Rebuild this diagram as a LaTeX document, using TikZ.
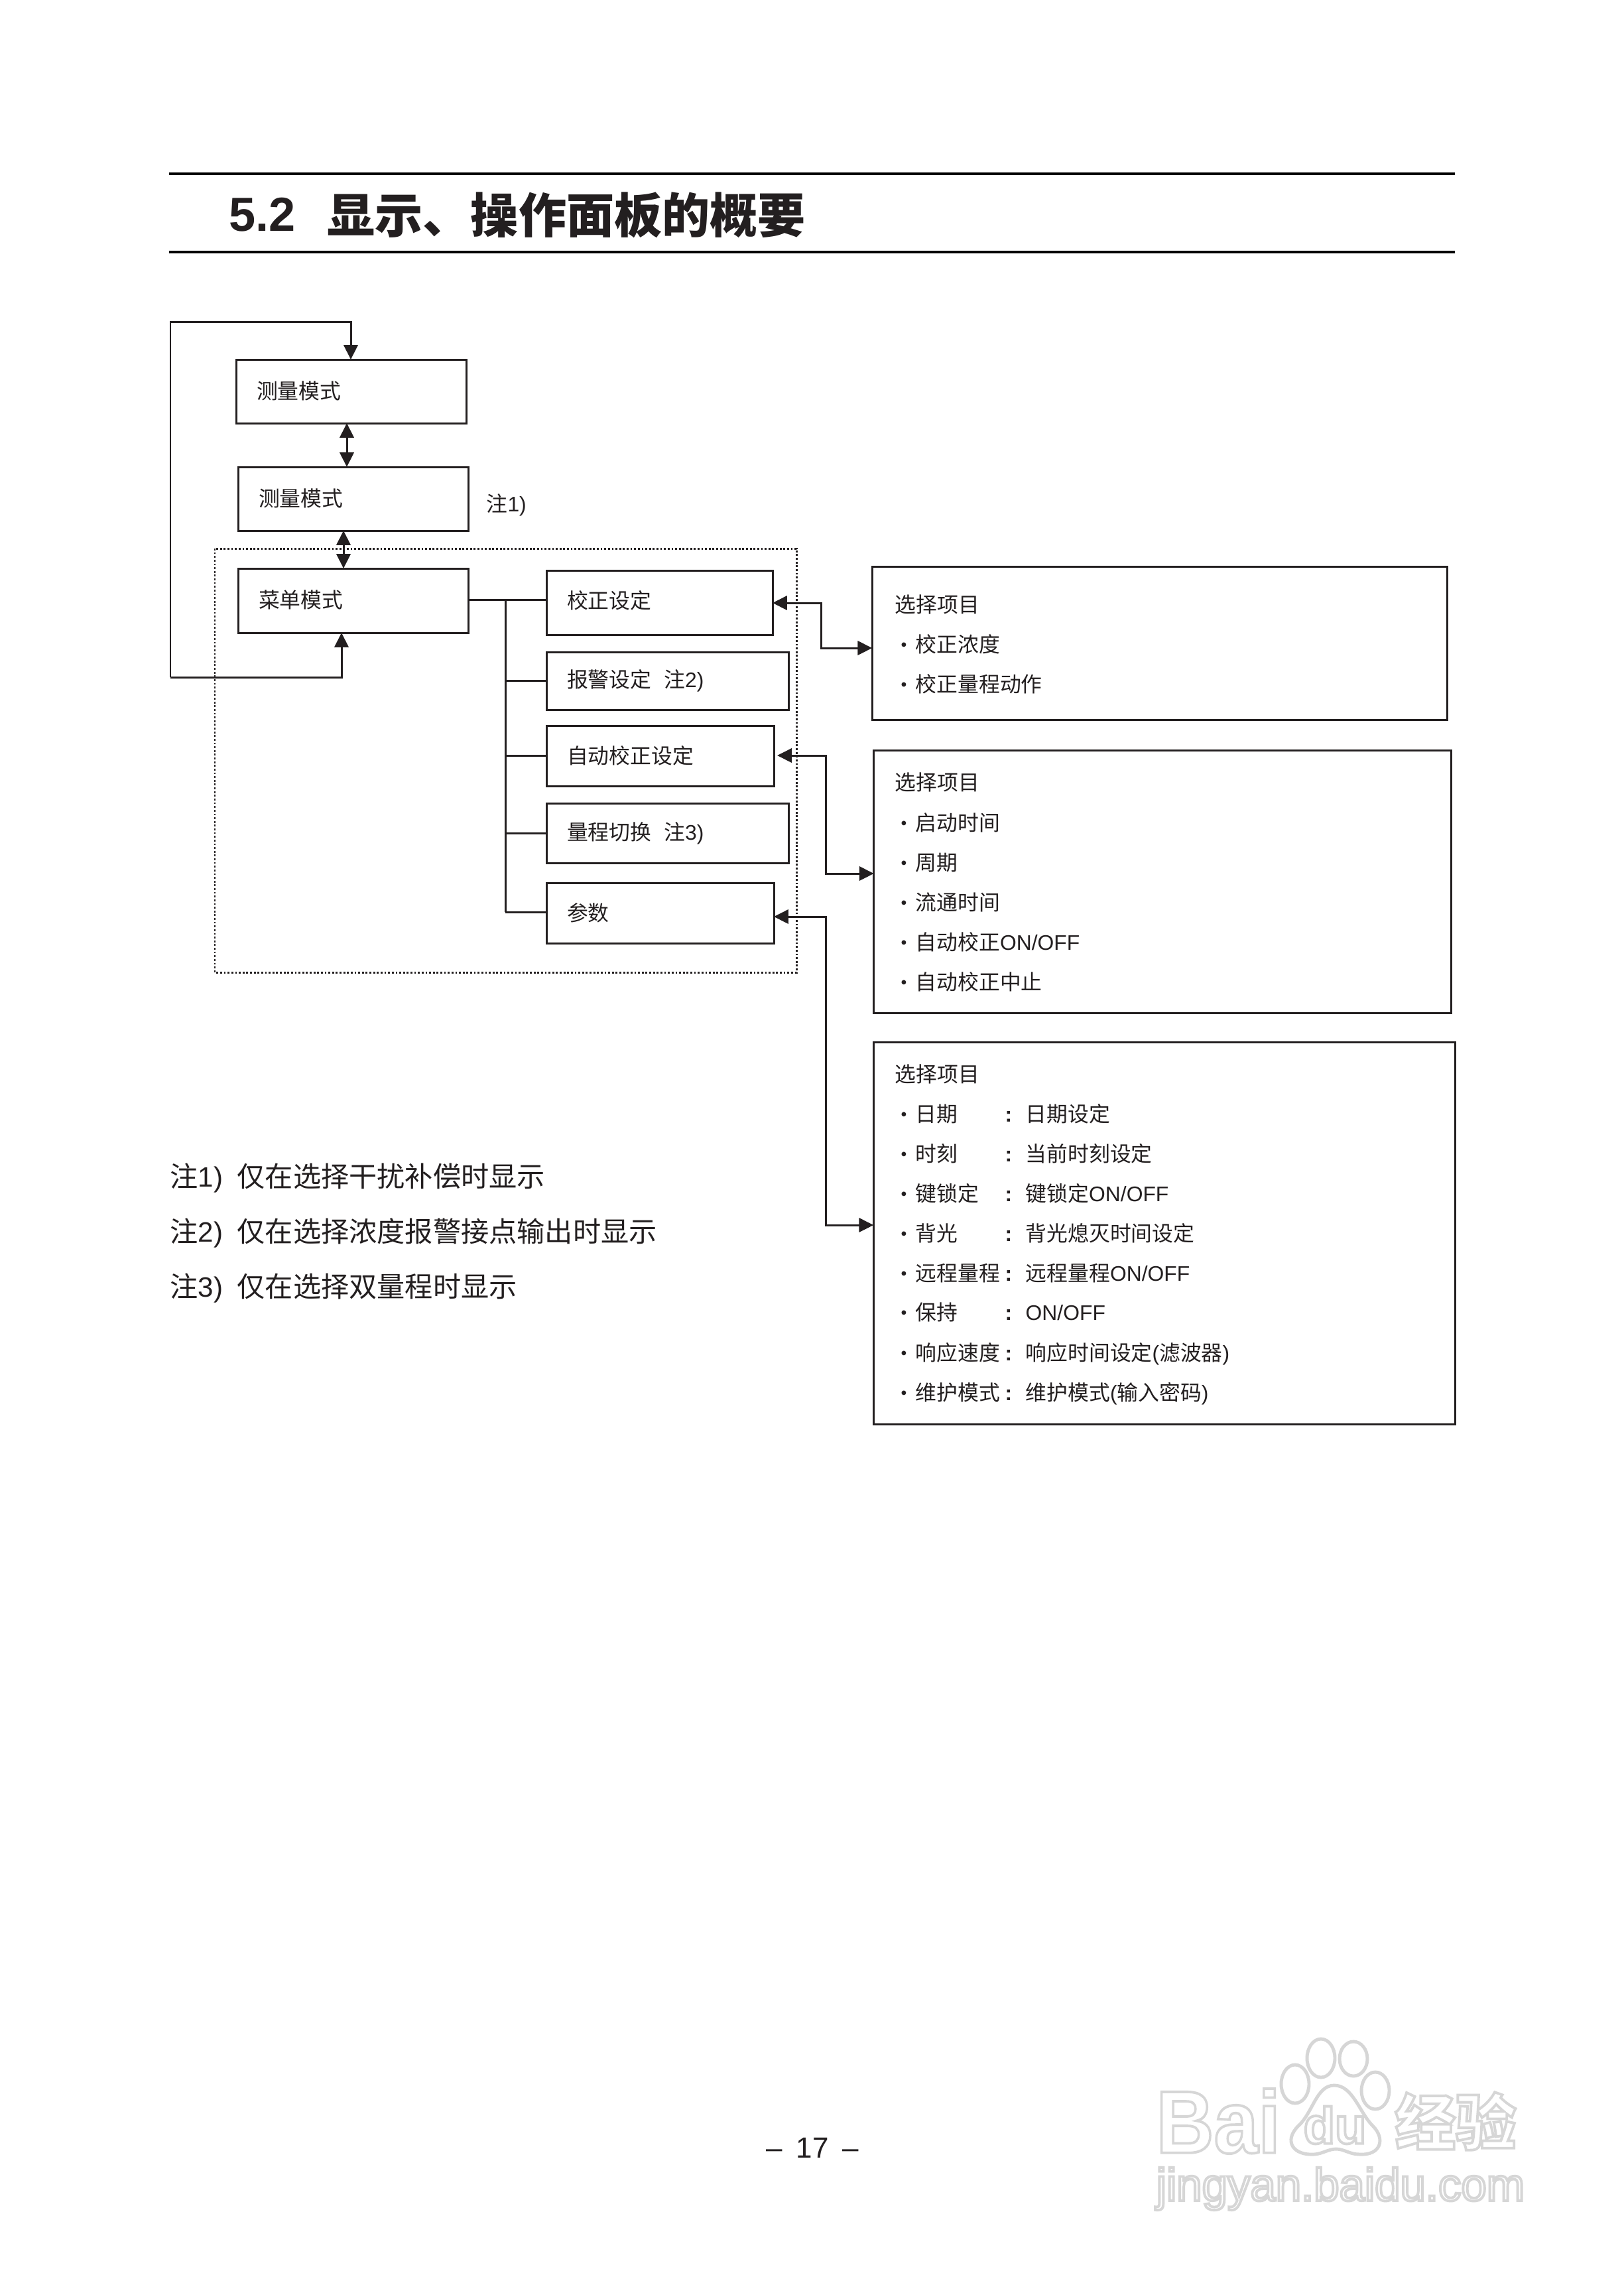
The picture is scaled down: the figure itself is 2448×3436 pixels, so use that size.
\documentclass[tikz,border=0pt]{standalone}
\usepackage{fontspec}
\usetikzlibrary{arrows.meta}
\setmainfont{Liberation Sans}
\newfontfamily\cjk{Noto Sans CJK SC}
\newfontfamily\lat{Liberation Sans}
\definecolor{ink}{HTML}{231F20}
\definecolor{wm}{gray}{0.84}
\newcommand\fn{\fontsize{9.05}{11}\selectfont\cjk}
\newcommand\fnote{\fontsize{12}{14}\selectfont\cjk}
\newcounter{tn}
\newcommand\tx[3]{\stepcounter{tn}\node[txt] (t\arabic{tn}) at (#1,#2) {#3};}
\newcommand\itm[2]{\tx{1380}{#1}{#2}\stepcounter{tn}\node[dotm] (t\arabic{tn}) at (1363,#1+5) {・};}
\newcommand\kv[3]{\itm{#1}{#2}\stepcounter{tn}\node[dotm] (t\arabic{tn}) at (1521,#1+3) {\lat\bfseries :};\tx{1546}{#1}{#3}}
\newcommand\bx[6]{\pgfmathsetmacro\wb{#4-#2}\pgfmathsetmacro\hb{#5-#3}\pgfmathsetmacro\tb{#4-#2-60}%
 \node[boxn,minimum width=\wb*0.01cm,minimum height=\hb*0.01cm,text width=\tb*0.01cm] (#1) at ({(#2+#4)/2},{(#3+#5)/2}) {#6};}
\newcommand\rs[2]{\raisebox{#1}{#2}}
% hollow watermark text: stroked glyph outlines only
\newcommand\wmt[6][]{\node[wmn,#1] (#2) at (#3,#4) {#5\special{pdf:code q 1 Tr 1.1 w 0.84 G}#6\special{pdf:code Q}};}
\tikzset{
 boxn/.style={draw=ink,line width=0.85pt,inner xsep=0.3cm,inner ysep=0pt,outer sep=0pt,align=left,font=\fn,text=ink,fill=white},
 panel/.style={draw=ink,line width=0.9pt,inner sep=0pt,outer sep=0pt,fill=white},
 txt/.style={inner sep=0pt,anchor=west,font=\fn,text=ink,text height=7.9pt,text depth=1.1pt},
 dotm/.style={inner sep=0pt,anchor=center,font=\fn,text=ink},
 notetxt/.style={inner sep=0pt,anchor=west,font=\fnote,text=ink,text height=10.5pt,text depth=1.5pt},
 conn/.style={draw=ink,line width=0.85pt},
 head/.style={conn,-{Triangle[length=6.2pt,width=6pt]}},
 both/.style={conn,{Triangle[length=6.2pt,width=6pt]}-{Triangle[length=6.2pt,width=6pt]}},
 rulel/.style={draw=black,line width=1.05pt},
 wmn/.style={inner sep=0pt,anchor=west},
}
\begin{document}
\begin{tikzpicture}[x=0.01cm,y=-0.01cm]
\useasboundingbox (0,0) rectangle (2448,3436);
\fill[white] (0,0) rectangle (2448,3436);
% watermark
\draw[wm,line width=1.4pt,fill=white] (1953,3142) ellipse [x radius=21,y radius=29];
\draw[wm,line width=1.4pt,fill=white] (1992,3103) ellipse [x radius=21,y radius=29];
\draw[wm,line width=1.4pt,fill=white] (2041,3104) ellipse [x radius=21,y radius=26];
\draw[wm,line width=1.4pt,fill=white] (2074,3152) ellipse [x radius=21,y radius=28];
\wmt[xscale=0.9]{wa}{1743}{3198}{\fontsize{38}{40}\selectfont\lat\bfseries}{Bai}
\draw[wm,line width=1.4pt,fill=white] (2012,3144) .. controls (1985,3144) and (1980,3185) .. (1958,3205)
  .. controls (1935,3228) and (1950,3250) .. (1982,3248) .. controls (1995,3247) and (2003,3240) .. (2015,3240)
  .. controls (2027,3240) and (2035,3248) .. (2050,3248) .. controls (2082,3250) and (2090,3225) .. (2070,3205)
  .. controls (2050,3185) and (2040,3144) .. (2012,3144) -- cycle;
\wmt{wb}{1965}{3204}{\fontsize{22}{24}\selectfont\lat\bfseries}{du}
\wmt{wc}{2103}{3198}{\fontsize{26}{28}\selectfont\cjk\bfseries}{经验}
\wmt{wd}{1743}{3300}{\fontsize{19.6}{22}\selectfont\lat}{jingyan.baidu.com}
% title
\draw[rulel] (255,262) -- (2194,262);
\draw[rulel] (255,380) -- (2194,380);
\node[wmn,text=ink,font=\fontsize{20.5}{24}\selectfont\lat\bfseries] (tnum) at (345,324) {5.2};
\node[wmn,text=ink,font=\fontsize{20.5}{24}\selectfont\cjk\bfseries] (ttl) at (493,324) {显示、操作面板的概要};
% dotted frame
\draw[draw=ink,line width=0.85pt,dash pattern=on 0.8pt off 0.8pt] (324,827) rectangle (1201,1466);
% main boxes
\bx{b1}{357}{542}{703}{638}{\rs{1.2pt}{测量模式}}
\bx{b2}{360}{704}{706}{800}{\rs{1.2pt}{测量模式}}
\bx{b3}{360}{857}{706}{954}{\rs{1.2pt}{菜单模式}}
\bx{b4}{825}{860}{1165}{957}{\rs{2.4pt}{校正设定}}
\bx{b5}{825}{983}{1189}{1070}{\rs{-2.4pt}{报警设定\hspace{5.4pt}注{\lat 2)}}}
\bx{b6}{825}{1094}{1167}{1185}{自动校正设定}
\bx{b7}{825}{1211}{1189}{1301}{\rs{-1.2pt}{量程切换\hspace{5.4pt}注{\lat 3)}}}
\bx{b8}{825}{1331}{1167}{1422}{参数}
\tx{733}{760}{注{\lat 1)}}
% panels
\node[panel,minimum width=8.67cm,minimum height=2.31cm] (r1) at (1749,970) {};
\node[panel,minimum width=8.70cm,minimum height=3.95cm] (r2) at (1753,1329.5) {};
\node[panel,minimum width=8.77cm,minimum height=5.75cm] (r3) at (1756,1859.5) {};
% connector routing points
\coordinate (lt) at (257,485);
\coordinate (lb) at (257,1021);
\coordinate (p1) at (1238,909);
\coordinate (q1) at (1238,977);
\coordinate (p2) at (1245,1139);
\coordinate (q2) at (1245,1317);
\coordinate (p3) at (1245,1382);
\coordinate (q3) at (1245,1847);
\coordinate (tr) at (762,904);
\coordinate (tb) at (762,1375);
\coordinate (ua) at (529,485);
\coordinate (ub) at (515,1021);
% loop
\draw[head] (lb) -- (lt) -- (ua) -- (ua |- b1.north);
\draw[head] (lb) -- (ub) -- (b3.south -| ub);
% double arrows
\coordinate (d1) at (523,0);
\coordinate (d2) at (518,0);
\draw[both] (d1 |- b1.south) -- (d1 |- b2.north);
\draw[both] (d2 |- b2.south) -- (d2 |- b3.north);
% tree
\draw[conn] (b3.east |- tr) -- (b4.west |- tr);
\draw[conn] (tr) -- (tb);
\draw[conn] (tr |- b5.west) -- (b5.west);
\draw[conn] (tr |- b6.west) -- (b6.west);
\draw[conn] (tr |- b7.west) -- (b7.west);
\draw[conn] (tb) -- (b8.west |- tb);
% right connectors
\draw[both] (b4.east |- p1) -- (p1) -- (q1) -- (r1.west |- q1);
\draw[both] ([xshift=0.05cm]b6.east |- p2) -- (p2) -- (q2) -- (r2.west |- q2);
\draw[both] (b8.east |- p3) -- (p3) -- (q3) -- (r3.west |- q3);
% panel 1
\tx{1349}{912}{选择项目}
\itm{972}{校正浓度}
\itm{1032}{校正量程动作}
% panel 2
\tx{1349}{1180}{选择项目}
\itm{1241}{启动时间}
\itm{1301}{周期}
\itm{1361}{流通时间}
\itm{1421}{自动校正{\lat ON/OFF}}
\itm{1481}{自动校正中止}
% panel 3
\tx{1349}{1620}{选择项目}
\kv{1680}{日期}{日期设定}
\kv{1740}{时刻}{当前时刻设定}
\kv{1800}{键锁定}{键锁定{\lat ON/OFF}}
\kv{1860}{背光}{背光熄灭时间设定}
\kv{1920}{远程量程}{远程量程{\lat ON/OFF}}
\kv{1979}{保持}{{\lat ON/OFF}}
\kv{2040}{响应速度}{响应时间设定{\lat (}滤波器{\lat )}}
\kv{2100}{维护模式}{维护模式{\lat (}输入密码{\lat )}}
% notes
\node[notetxt] (n1a) at (256,1774) {注{\lat 1)}};
\node[notetxt] (n1b) at (357,1774) {仅在选择干扰补偿时显示};
\node[notetxt] (n2a) at (256,1857) {注{\lat 2)}};
\node[notetxt] (n2b) at (357,1857) {仅在选择浓度报警接点输出时显示};
\node[notetxt] (n3a) at (256,1940) {注{\lat 3)}};
\node[notetxt] (n3b) at (357,1940) {仅在选择双量程时显示};
% page number
\node[inner sep=0pt,text=ink,font=\fontsize{12.5}{14}\selectfont\lat] (pg) at (1225,3238) {–\hspace{6pt}17\hspace{6pt}–};
\end{tikzpicture}
\end{document}
